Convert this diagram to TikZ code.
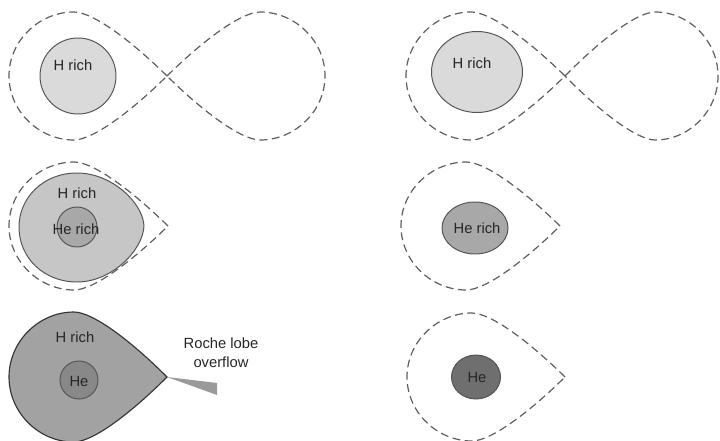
\documentclass[tikz,border=0pt]{standalone}
\usepackage{fontspec}
\setmainfont{Liberation Sans}

% Roche-lobe outline: #1 back x, #2 tip x, #3 centre y, #4 half height
\newcommand\lobepath[4]{%
 (#2,#3) .. controls ({#2-0.23*(#2-#1)},{#3-0.56*#4}) and ({#1+0.53*(#2-#1)},{#3-#4}) .. ({#1+0.41*(#2-#1)},{#3-#4})
 .. controls ({#1+0.19*(#2-#1)},{#3-#4}) and (#1,{#3-0.55*#4}) .. (#1,#3)
 .. controls (#1,{#3+0.55*#4}) and ({#1+0.19*(#2-#1)},{#3+#4}) .. ({#1+0.41*(#2-#1)},{#3+#4})
 .. controls ({#1+0.53*(#2-#1)},{#3+#4}) and ({#2-0.23*(#2-#1)},{#3+0.56*#4}) .. (#2,#3) -- cycle}

\definecolor{dashgray}{HTML}{5E5E5E}
\definecolor{rimgray}{HTML}{555555}
\definecolor{hlight}{HTML}{DADADA}
\definecolor{hmid}{HTML}{C6C6C6}
\definecolor{hemid}{HTML}{A8A8A8}
\definecolor{hdark}{HTML}{A2A2A2}
\definecolor{hedark}{HTML}{888888}
\definecolor{hecore}{HTML}{6F6F6F}

\tikzset{
  lobeline/.style={draw=dashgray, line width=0.85pt, dash pattern=on 5.6pt off 3.2pt},
  layer/.style={draw=rimgray, line width=0.7pt},
  lbl/.style={font=\fontsize{10.5}{13.5}\selectfont, text=black!85, inner sep=0pt, align=center}
}

\begin{document}
\begin{tikzpicture}[x=0.025cm, y=-0.025cm]
\useasboundingbox (0,0) rectangle (720,440);

% ---- top left: detached binary, H-rich star
\path[lobeline] \lobepath{9}{167}{76}{64};
\path[lobeline] \lobepath{325}{167}{76}{64};
\path[layer, fill=hlight] (78,76) circle [radius=38];
\node[lbl] (t1) at (73,65) {H rich};

% ---- top right
\path[lobeline] \lobepath{406}{565}{76}{64};
\path[lobeline] \lobepath{718}{565}{76}{64};
\path[layer, fill=hlight] (477,72) ellipse [x radius=45.5, y radius=40.5];
\node[lbl] (t2) at (472,63) {H rich};

% ---- middle left: envelope grows towards the lobe
\path[lobeline] \lobepath{9}{168}{226}{64};
\path[layer, fill=hmid] (144,226) .. controls (143,203) and (112,173) .. (77,173)
  .. controls (43,173) and (19,198) .. (19,227)
  .. controls (19,258) and (44,282) .. (77,282)
  .. controls (112,282) and (143,250) .. (144,226) -- cycle;
\path[layer, fill=hemid] (77,227) circle [radius=20];
\node[lbl] (m1) at (77,193) {H rich};
\node[lbl] (m2) at (76,229) {He rich};

% ---- middle right
\path[lobeline] \lobepath{401}{560}{226}{64};
\path[layer, fill=hemid] (475,228) ellipse [x radius=33, y radius=26];
\node[lbl] (m3) at (477,228) {He rich};

% ---- bottom left: lobe filled, mass transfer through L1
\path[draw=black!80, line width=0.8pt, fill=hdark] \lobepath{9}{167}{377}{65};
\coordinate (l1) at (167,377);
\coordinate (s1) at (217,383);
\coordinate (s2) at (217,395);
\fill[hdark!95!black] (l1) -- (s1) -- (s2) -- cycle;
\path[layer, fill=hedark] (79,380) circle [radius=19];
\node[lbl] (b1) at (75,337) {H rich};
\node[lbl] (b2) at (79,381) {He};
\node[lbl] (b3) at (221,353) {Roche lobe\\overflow};

% ---- bottom right
\path[lobeline] \lobepath{407}{565}{377}{64};
\path[layer, fill=hecore] (476,377) ellipse [x radius=24.5, y radius=22];
\node[lbl] (b4) at (477,377) {He};
\end{tikzpicture}
\end{document}
